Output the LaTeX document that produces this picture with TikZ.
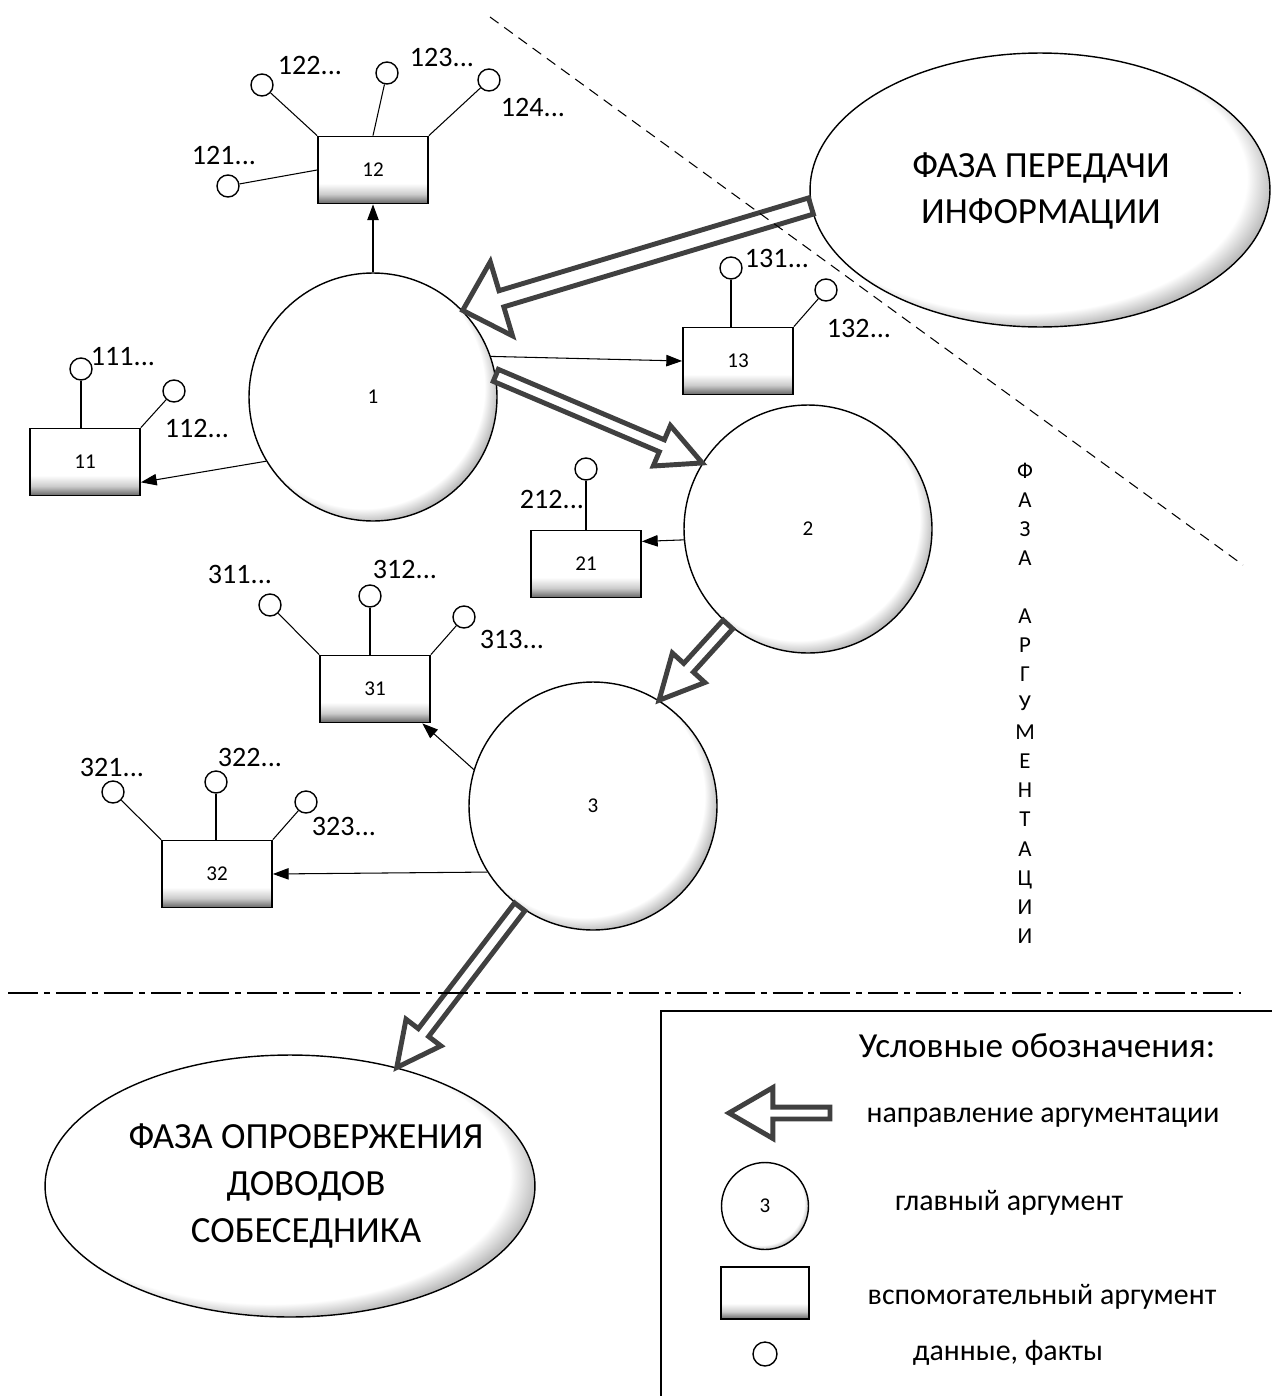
\documentclass[tikz,border=0pt]{standalone}
\usepackage{fontspec}
\setmainfont{Carlito}
\usetikzlibrary{shapes.geometric, arrows.meta, calc}

% shadings for the argument shapes
\pgfdeclareradialshading{argshade}{\pgfpoint{-4bp}{4bp}}{color(0bp)=(white); color(24.5bp)=(white); color(27bp)=(black!25); color(30bp)=(black!45); color(50bp)=(black!45)}
\pgfdeclareverticalshading{boxshade}{100bp}{color(0bp)=(black!60); color(25bp)=(black!60); color(32bp)=(black!20); color(40bp)=(white); color(100bp)=(white)}

% hollow block arrow: from, to, shaft half width, head half width, head length
\newcommand{\hollowarrow}[5]{%
  \coordinate (hb) at ($(#2)!#5!(#1)$);
  \draw[argarrow] ($(#1)!#3!90:(#2)$) -- ($(hb)!#3!-90:(#1)$) -- ($(hb)!#4!-90:(#1)$) -- (#2)
    -- ($(hb)!#4!90:(#1)$) -- ($(hb)!#3!90:(#1)$) -- ($(#1)!#3!-90:(#2)$) -- cycle;}

\begin{document}
\begin{tikzpicture}[
    x=0.02cm, y=-0.02cm,
    mainarg/.style = {circle, draw, line width=0.8pt, shading=argshade, minimum size=4.96cm, inner sep=0pt, font=\fontsize{12}{14}\selectfont},
    auxarg/.style = {rectangle, draw, line width=1pt, shading=boxshade, minimum width=2.2cm, minimum height=1.34cm, inner sep=0pt, font=\fontsize{12}{14}\selectfont},
    fact/.style = {circle, draw, line width=0.8pt, fill=white, minimum size=0.44cm, inner sep=0pt},
    factlabel/.style = {font=\fontsize{16}{18}\selectfont, inner sep=0pt},
    phase/.style = {ellipse, draw, line width=0.8pt, shading=argshade, inner sep=0pt},
    phasetext/.style = {align=center, inner sep=0pt, font=\fontsize{21}{26.6}\selectfont},
    thinarrow/.style = {draw, line width=0.6pt, -{Triangle[length=9pt, width=6.5pt]}},
    argarrow/.style = {draw=black!75, fill=white, line width=2.8pt, line join=miter},
    legendtext/.style = {font=\fontsize{17}{20}\selectfont, inner sep=0pt},
    phaseline/.style = {line width=0.6pt, dash pattern=on 6pt off 4pt},
    dividerline/.style = {line width=0.9pt, dash pattern=on 17pt off 3.4pt on 3.4pt off 3.4pt}
]
\useasboundingbox (0,0) rectangle (1272,1396);

% Phases
\node [phase, minimum width=9.2cm, minimum height=5.48cm] (info) at (1040,190) {};
\node [phasetext] (infotext) at (1041,191) {ФАЗА ПЕРЕДАЧИ\\ИНФОРМАЦИИ};
\node [phase, minimum width=9.8cm, minimum height=5.24cm] (refute) at (290,1186) {};
\node [phasetext] (refutetext) at (306,1186) {ФАЗА ОПРОВЕРЖЕНИЯ\\ДОВОДОВ\\СОБЕСЕДНИКА};

% Main arguments
\node [mainarg] (c1) at (373,397) {1};
\node [mainarg] (c2) at (808,529) {2};
\node [mainarg] (c3) at (593,806) {3};

% Auxiliary arguments
\node [auxarg] (a12) at (373,170) {12};
\node [auxarg] (a11) at (85,462) {11};
\node [auxarg] (a13) at (738,361) {13};
\node [auxarg] (a21) at (586,564) {21};
\node [auxarg] (a31) at (375,689) {31};
\node [auxarg] (a32) at (217,874) {32};

% Facts
\node [fact] (f121) at (228,186) {};
\node [fact] (f122) at (262,85) {};
\node [fact] (f123) at (387,73) {};
\node [fact] (f124) at (489,80) {};
\node [fact] (f111) at (81,369) {};
\node [fact] (f112) at (174,391) {};
\node [fact] (f131) at (731,268) {};
\node [fact] (f132) at (826,290) {};
\node [fact] (f212) at (586,469) {};
\node [fact] (f311) at (270,605) {};
\node [fact] (f312) at (370,596) {};
\node [fact] (f313) at (464,617) {};
\node [fact] (f321) at (113,792) {};
\node [fact] (f322) at (216,782) {};
\node [fact] (f323) at (306,802) {};

\node [factlabel] (l121) at (224,155) {121...};
\node [factlabel] (l122) at (310,65) {122...};
\node [factlabel] (l123) at (442,57) {123...};
\node [factlabel] (l124) at (533,107) {124...};
\node [factlabel] (l111) at (123,357) {111...};
\node [factlabel] (l112) at (197,428) {112...};
\node [factlabel] (l131) at (777,258) {131...};
\node [factlabel] (l132) at (859,328) {132...};
\node [factlabel] (l212) at (552,499) {212...};
\node [factlabel] (l311) at (240,574) {311...};
\node [factlabel] (l312) at (405,569) {312...};
\node [factlabel] (l313) at (512,639) {313...};
\node [factlabel] (l321) at (112,767) {321...};
\node [factlabel] (l322) at (250,757) {322...};
\node [factlabel] (l323) at (344,826) {323...};

% Fact links
\draw [line width=0.6pt] (f121) -- (a12.west);
\draw [line width=0.6pt] (f122) -- (a12.north west);
\draw [line width=0.6pt] (f123) -- (a12.north);
\draw [line width=0.6pt] (f124) -- (a12.north east);
\draw [line width=0.6pt] (f111) -- (f111 |- a11.north);
\draw [line width=0.6pt] (f112) -- (a11.north east);
\draw [line width=0.6pt] (f131) -- (f131 |- a13.north);
\draw [line width=0.6pt] (f132) -- (a13.north east);
\draw [line width=0.6pt] (f212) -- (f212 |- a21.north);
\draw [line width=0.6pt] (f311) -- (a31.north west);
\draw [line width=0.6pt] (f312) -- (f312 |- a31.north);
\draw [line width=0.6pt] (f313) -- (a31.north east);
\draw [line width=0.6pt] (f321) -- (a32.north west);
\draw [line width=0.6pt] (f322) -- (f322 |- a32.north);
\draw [line width=0.6pt] (f323) -- (a32.north east);

% Main to auxiliary
\path [thinarrow] (c1.north) -- (a12.south);
\path [thinarrow] (c1.19) -- (a13.west);
\path [thinarrow] (c1.211) -- (a11.-20);
\path [thinarrow] (c2.185) -- (a21.22);
\path [thinarrow] (c3.163) -- (a31.-36);
\path [thinarrow] (c3.212) -- (a32.east);

% Direction of argumentation
\hollowarrow{info.184}{c1.44}{4.8pt}{22pt}{23pt}
\hollowarrow{c1.10}{c2.148}{3.7pt}{12.5pt}{25pt}
\hollowarrow{c2.230}{c3.58}{3.7pt}{12.5pt}{25pt}
\hollowarrow{c3.234}{refute.48}{3.7pt}{12.5pt}{25pt}

% Phase borders
\draw [phaseline] (490,17) -- (1243,565);
\draw [dividerline] (8,993) -- (1241,993);
\node [align=center, inner sep=0pt, font=\fontsize{13}{16.55}\selectfont] (argphase) at (1025,703)
  {Ф\\А\\З\\А\\[16.55pt]А\\Р\\Г\\У\\М\\Е\\Н\\Т\\А\\Ц\\И\\И};

% Legend
\draw [line width=0.9pt] (661,1396) -- (661,1011) -- (1272,1011);
\node [legendtext, font=\fontsize{20}{23}\selectfont] (legtitle) at (1037,1046) {Условные обозначения:};
\coordinate (legtail) at (830,1113);
\coordinate (legtip) at (729,1113);
\hollowarrow{legtail}{legtip}{3.4pt}{14.5pt}{25pt}
\node [legendtext] (legarrowtext) at (1043,1118) {направление аргументации};
\node [mainarg, minimum size=1.74cm] (legmain) at (765,1206) {3};
\node [legendtext] (legmaintext) at (1009,1203) {главный аргумент};
\node [auxarg, minimum width=1.76cm, minimum height=1.04cm] (legaux) at (765,1293) {};
\node [legendtext] (legauxtext) at (1042,1297) {вспомогательный аргумент};
\node [fact, minimum size=0.48cm] (legfact) at (765,1354) {};
\node [legendtext] (legfacttext) at (1008,1353) {данные, факты};

\end{tikzpicture}
\end{document}
